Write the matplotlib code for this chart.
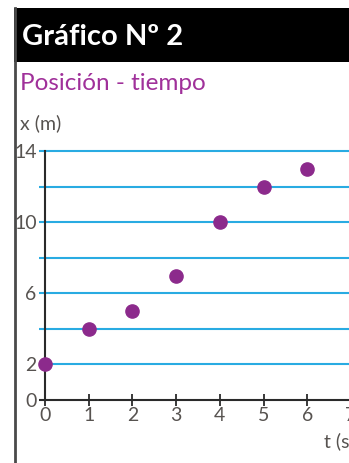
import matplotlib
matplotlib.use("Agg")
import matplotlib.pyplot as plt
from matplotlib.patches import Rectangle

# datos
TIEMPO = [0, 1, 2, 3, 4, 5, 6]
POSICION = [2, 4, 5, 7, 10, 12, 13]
Y_TICKS = [0, 2, 6, 10, 14]
Y_GRID = [2, 4, 6, 8, 10, 12, 14]
X_TICKS = [0, 1, 2, 3, 4, 5, 6, 7, 8]

W, H = 349, 463
PURPLE = "#8c2a8c"
BLUE = "#29abe2"
TXT = "#575350"
FONT = "Lato"


def fx(px):
    return px / W


def fy(py):
    return 1 - py / H


fig = plt.figure(figsize=(W / 100, H / 100), dpi=100)
fig.patch.set_facecolor("white")

# cabecera negra
fig.patches.append(Rectangle((fx(14), fy(62)), 1, 54 / H, transform=fig.transFigure,
                             facecolor="black", edgecolor="none", zorder=0))
# borde izquierdo
fig.add_artist(plt.Line2D([fx(15), fx(15)], [fy(8), 0], transform=fig.transFigure,
                          color="#4a4a4a", lw=2.0))

fig.text(fx(22), fy(37), "Gráfico Nº 2", color="white", fontsize=21, fontweight="bold",
         family=FONT, va="center", ha="left")
fig.text(fx(20), fy(84), "Posición - tiempo", color="#a0309a", fontsize=17.5,
         family=FONT, va="center", ha="left")
fig.text(fx(20), fy(123), "x (m)", color=TXT, fontsize=14, family=FONT,
         va="center", ha="left")

# ejes: 0 en x=45px, 43.7 px por segundo; y=0 en 400px, y=14 en 151px
left, bottom, top = 45, 400, 151
right = 420
ax = fig.add_axes([fx(left), fy(bottom), (right - left) / W, (bottom - top) / H])
ax.set_xlim(0, (right - left) / 43.7)
ax.set_ylim(0, 14)
ax.patch.set_alpha(0)

for s in ["top", "right"]:
    ax.spines[s].set_visible(False)
for s in ["left", "bottom"]:
    ax.spines[s].set_color("#2a2a2a")
    ax.spines[s].set_linewidth(1.5)

ax.hlines(Y_GRID, -0.14, (right - left) / 43.7, color=BLUE, lw=1.5, clip_on=False, zorder=1)
ax.hlines([0], -0.14, 0, color="#2a2a2a", lw=1.5, clip_on=False, zorder=1)

ax.set_yticks(Y_TICKS)
ax.set_yticklabels([str(v) for v in Y_TICKS])
ax.tick_params(axis="y", length=0, pad=6, labelsize=14, labelcolor=TXT)
ax.set_xticks(X_TICKS)
ax.set_xticklabels([str(v) for v in X_TICKS])
ax.tick_params(axis="x", direction="inout", length=8, width=1.3, color="#2a2a2a",
               pad=1, labelsize=14, labelcolor=TXT)
for lab in ax.get_xticklabels() + ax.get_yticklabels():
    lab.set_family(FONT)

ax.plot(TIEMPO, POSICION, "o", color=PURPLE, markersize=9.5, clip_on=False, zorder=3)

fig.text(fx(324), fy(441), "t (s)", color=TXT, fontsize=14, family=FONT,
         va="center", ha="left")

fig.savefig("out.png", dpi=100)
